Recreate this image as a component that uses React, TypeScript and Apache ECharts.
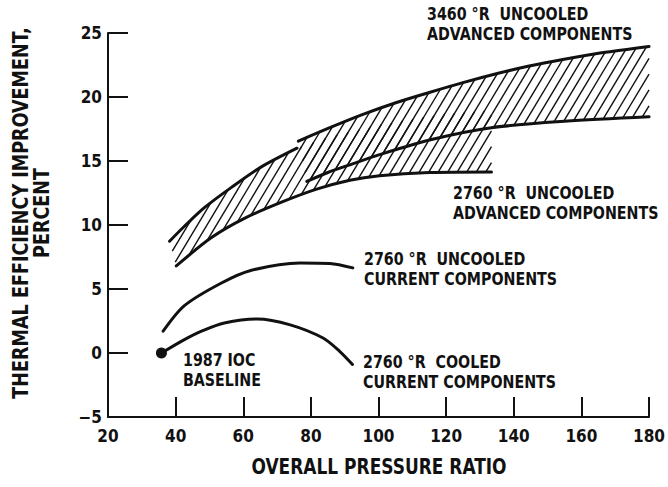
import React, { useEffect, useRef } from "react";
import * as echarts from "echarts";

// ---- data ----
const xTicks = [20, 40, 60, 80, 100, 120, 140, 160, 180];
const yTicks = [-5, 0, 5, 10, 15, 20, 25];

const cooledCurrent: [number, number][] = [
  [35.8, 0.0], [42.6, 1.05], [48, 1.75], [54.4, 2.35], [64.1, 2.66],
  [73.9, 2.2], [83.6, 1.17], [88.5, 0.13], [92.3, -0.9],
];
const uncooledCurrent: [number, number][] = [
  [36.3, 1.7], [42.6, 3.7], [53.4, 5.45], [62.2, 6.45], [76.8, 7.04],
  [85.6, 7.0], [92.4, 6.65],
];
const adv2760Upper: [number, number][] = [
  [38.2, 8.73], [42.6, 9.9], [48.5, 11.35], [56.3, 12.9], [65.1, 14.5], [75.9, 16.0],
];
const adv2760UpperHidden: [number, number][] = [
  [85.6, 16.9], [100, 17.8], [115, 18.5], [133.4, 19.0],
];
const adv2760Lower: [number, number][] = [
  [40.2, 6.8], [50.5, 9.0], [60.2, 10.5], [71.5, 11.8], [81.7, 12.8],
  [91.5, 13.5], [100.3, 13.85], [115, 14.1], [133.4, 14.15],
];
const adv3460Upper: [number, number][] = [
  [76.3, 16.55], [85.6, 17.6], [95, 18.6], [105.1, 19.55], [115, 20.35],
  [124.7, 21.1], [135.4, 21.85], [144.2, 22.4], [154.9, 22.95], [166, 23.45], [180, 23.95],
];
const adv3460Lower: [number, number][] = [
  [78.8, 13.4], [85, 14.1], [91.5, 14.7], [100.3, 15.5], [116, 16.7],
  [133.4, 17.6], [155, 18.1], [180, 18.45],
];
const baseline: [number, number][] = [[35.8, 0]];

const labels = {
  adv3460: "3460 °R  UNCOOLED\nADVANCED COMPONENTS",
  adv2760: "2760 °R  UNCOOLED\nADVANCED COMPONENTS",
  uncooledCur: "2760 °R  UNCOOLED\nCURRENT COMPONENTS",
  cooledCur: "2760 °R  COOLED\nCURRENT COMPONENTS",
  base: "1987 IOC\nBASELINE",
};
const xTitle = "OVERALL PRESSURE RATIO";
const yTitle = "THERMAL EFFICIENCY IMPROVEMENT,\nPERCENT";

const FONT = "'Liberation Sans Narrow', 'DejaVu Sans Condensed', 'Arial Narrow', sans-serif";
const INK = "#111";

const HATCH_SPACING = 9.5;
const HATCH_COT = 0.6;

function hatchSegments(poly: number[][]) {
  let minC = Infinity;
  let maxC = -Infinity;
  for (const p of poly) {
    const c = p[0] + HATCH_COT * p[1];
    if (c < minC) minC = c;
    if (c > maxC) maxC = c;
  }
  const segs: number[][][] = [];
  const n = poly.length;
  for (let c = Math.ceil(minC / HATCH_SPACING) * HATCH_SPACING; c <= maxC; c += HATCH_SPACING) {
    const pts: number[][] = [];
    for (let i = 0; i < n; i++) {
      const a = poly[i];
      const b = poly[(i + 1) % n];
      const f1 = a[0] + HATCH_COT * a[1] - c;
      const f2 = b[0] + HATCH_COT * b[1] - c;
      if ((f1 < 0) !== (f2 < 0)) {
        const t = f1 / (f1 - f2);
        pts.push([a[0] + t * (b[0] - a[0]), a[1] + t * (b[1] - a[1])]);
      }
    }
    pts.sort((p, q) => p[1] - q[1]);
    for (let j = 0; j + 1 < pts.length; j += 2) segs.push([pts[j], pts[j + 1]]);
  }
  return segs;
}

function bandSeries(upper: [number, number][], lower: [number, number][]) {
  const poly = [...upper, ...lower.slice().reverse()];
  return {
    type: "custom",
    z: 1,
    silent: true,
    clip: false,
    data: poly,
    encode: { x: 0, y: 1 },
    renderItem: (params: any, api: any) => {
      if (params.dataIndex !== 0) return null;
      const px = poly.map((p) => api.coord(p));
      const segs = hatchSegments(px);
      return {
        type: "group",
        children: segs.map((s) => ({
          type: "line",
          shape: { x1: s[0][0], y1: s[0][1], x2: s[1][0], y2: s[1][1] },
          style: { stroke: INK, lineWidth: 1.4 },
        })),
      };
    },
  };
}

function curve(data: [number, number][]) {
  return {
    type: "line",
    data,
    smooth: 0.3,
    showSymbol: false,
    z: 3,
    lineStyle: { color: INK, width: 3, cap: "round" },
  };
}

function note(x: number, y: number, text: string) {
  return {
    type: "text",
    x,
    y,
    z: 10,
    scaleX: 0.88,
    style: {
      text,
      fill: INK,
      fontFamily: FONT,
      fontWeight: "bold",
      fontSize: 18,
      lineHeight: 19.5,
      align: "left",
      verticalAlign: "top",
    },
  };
}

export default function App() {
  const ref = useRef<HTMLDivElement>(null);
  useEffect(() => {
    if (!ref.current) return;
    const chart = echarts.init(ref.current, undefined, { renderer: "svg" });
    const axisText = { fontFamily: FONT, fontWeight: "bold" as const, color: INK, fontSize: 17 };
    chart.setOption({
      animation: false,
      backgroundColor: "#fff",
      grid: { left: 108, top: 33, width: 544, height: 384 },
      xAxis: {
        type: "value",
        min: xTicks[0],
        max: xTicks[xTicks.length - 1],
        interval: 20,
        axisLine: { show: true, onZero: false, lineStyle: { color: INK, width: 2 } },
        axisTick: { show: true, inside: true, length: 20, lineStyle: { color: INK, width: 2 } },
        axisLabel: { ...axisText, margin: 10 },
        splitLine: { show: false },
        z: 10,
      },
      yAxis: {
        type: "value",
        min: yTicks[0],
        max: yTicks[yTicks.length - 1],
        interval: 5,
        axisLine: { show: true, onZero: false, lineStyle: { color: INK, width: 2 } },
        axisTick: { show: true, inside: true, length: 20, lineStyle: { color: INK, width: 2 } },
        axisLabel: {
          ...axisText,
          margin: 6,
          formatter: (v: number) => (v < 0 ? "\u2212" + Math.abs(v) : String(v)),
        },
        splitLine: { show: false },
        z: 10,
      },
      series: [
        bandSeries([...adv2760Upper, ...adv2760UpperHidden], adv2760Lower),
        bandSeries(adv3460Upper, adv3460Lower),
        curve(adv2760Upper),
        curve(adv2760Lower),
        curve(adv3460Upper),
        curve(adv3460Lower),
        curve(uncooledCurrent),
        curve(cooledCurrent),
        {
          type: "scatter",
          data: baseline,
          symbolSize: 11,
          z: 4,
          itemStyle: { color: INK, opacity: 1 },
        },
      ],
      graphic: [
        note(427, 4, labels.adv3460),
        note(453, 183, labels.adv2760),
        note(364, 249, labels.uncooledCur),
        note(363, 352, labels.cooledCur),
        note(183, 350, labels.base),
        {
          type: "text",
          x: 379,
          y: 466,
          scaleX: 0.86,
          z: 10,
          style: {
            text: xTitle,
            fill: INK,
            fontFamily: FONT,
            fontWeight: "bold",
            fontSize: 22,
            align: "center",
            verticalAlign: "middle",
          },
        },
        {
          type: "text",
          x: 31,
          y: 213,
          rotation: Math.PI / 2,
          scaleX: 0.93,
          z: 10,
          style: {
            text: yTitle,
            fill: INK,
            fontFamily: FONT,
            fontWeight: "bold",
            fontSize: 21,
            lineHeight: 21,
            align: "center",
            verticalAlign: "middle",
          },
        },
      ],
    });
    return () => chart.dispose();
  }, []);
  return (
    <div
      ref={ref}
      style={{ position: "fixed", left: 0, top: 0, width: 668, height: 487, background: "#fff" }}
    />
  );
}
